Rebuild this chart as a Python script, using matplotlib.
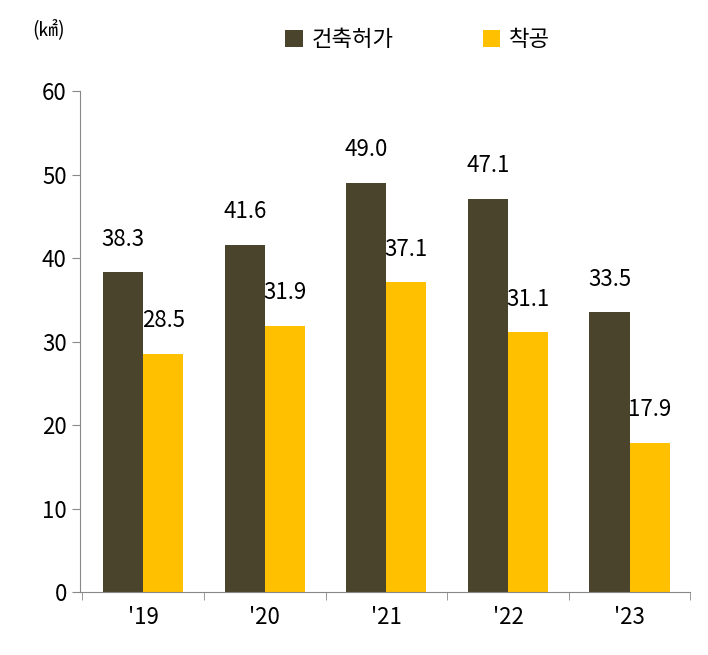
import matplotlib
matplotlib.use("Agg")
import matplotlib.pyplot as plt
import numpy as np

plt.rcParams['font.family'] = ['Noto Sans CJK KR', 'Noto Sans CJK JP', 'Noto Sans CJK SC', 'DejaVu Sans']

years = ["'19", "'20", "'21", "'22", "'23"]
permit = [38.3, 41.6, 49.0, 47.1, 33.5]
start = [28.5, 31.9, 37.1, 31.1, 17.9]
series_names = ["건축허가", "착공"]

fig = plt.figure(figsize=(7.08, 6.55), dpi=100)
ax = fig.add_axes([0.113, 0.096, 0.862, 0.765])
x = np.arange(len(years))
w = 0.33
c1, c2 = '#4a442d', '#ffc000'
b1 = ax.bar(x - w/2, permit, w, color=c1, label=series_names[0])
b2 = ax.bar(x + w/2, start, w, color=c2, label=series_names[1])
for xi, v in zip(x, permit):
    ax.text(xi - w/2, v + 2.6, f"{v:.1f}", ha='center', va='bottom', fontsize=16)
for xi, v in zip(x, start):
    ax.text(xi + w/2, v + 2.6, f"{v:.1f}", ha='center', va='bottom', fontsize=16)

ax.set_xlim(-0.52, 4.5)
ax.set_ylim(0, 60)
ax.set_yticks(range(0, 61, 10))
ax.set_xticks(x)
ax.set_xticklabels(years)
ax.set_xticks(np.arange(-0.5, 4.6, 1), minor=True)
ax.tick_params(axis='x', which='major', length=0, labelsize=16, pad=10)
ax.tick_params(axis='x', which='minor', length=6, color='#888888', direction='out')
ax.tick_params(axis='y', labelsize=16, length=6, color='#888888', direction='out')
for s in ['top', 'right']:
    ax.spines[s].set_visible(False)
ax.spines['left'].set_color('#888888')
ax.spines['bottom'].set_color('#888888')

fig.text(0.045, 0.955, "(㎢)", fontsize=14, ha='left', va='center')
fig.legend(handles=[b1, b2], loc='center', bbox_to_anchor=(0.59, 0.94), ncol=2,
           frameon=False, fontsize=16, handlelength=0.8, handleheight=0.8,
           columnspacing=4, handletextpad=0.4)
fig.savefig('out.png', dpi=100)
